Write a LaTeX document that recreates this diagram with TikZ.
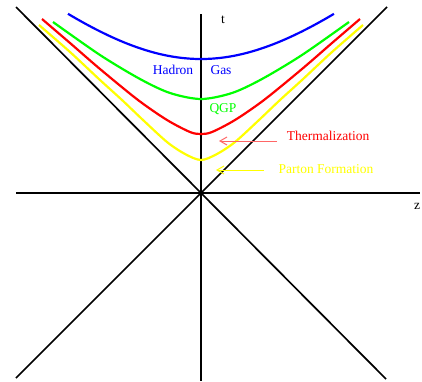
\documentclass[tikz,border=0pt]{standalone}
\usepackage{fontspec}
\setmainfont{Liberation Serif}
\usetikzlibrary{arrows.meta}
\definecolor{pblue}{RGB}{0,0,255}
\definecolor{pgreen}{RGB}{0,255,0}
\definecolor{pred}{RGB}{255,0,0}
\definecolor{pyellow}{RGB}{255,255,0}
\begin{document}
\begin{tikzpicture}[x=1pt,y=-1pt,
  axis/.style={line width=1.7pt,black},
  curve/.style={line width=2.2pt,smooth},
  lbl/.style={font=\fontsize{13.5}{15}\selectfont,inner sep=0pt},
  pointer/.style={line width=1pt,-{Straight Barb[length=7pt,width=8pt,line width=1pt]}}]
\useasboundingbox (0,0) rectangle (422,381);
% axes and light cone
\coordinate (O) at (201,193);
\coordinate (tTop) at (201,14);
\coordinate (tBot) at (201,381);
\coordinate (zL) at (16,193);
\coordinate (zR) at (420,193);
\coordinate (dTL) at (16,7);
\coordinate (dTR) at (387,7);
\coordinate (dBL) at (16,378);
\coordinate (dBR) at (386,379);
\draw[axis] (tTop) -- (tBot);
\draw[axis] (zL) -- (zR);
\draw[axis] (dTL) -- (O) -- (dBR);
\draw[axis] (dTR) -- (O) -- (dBL);
% hyperbolae
\draw[curve,pblue] plot[domain=-1.33:1.33,samples=60] ({201+100*\x},{193-100*sqrt(1.7956+0.8*\x*\x)});
\draw[curve,pgreen] plot coordinates {(53,22) (100,55) (140,79) (170,93) (201,99) (232,93) (262,79) (302,55) (349,22)};
\draw[curve,pred] plot coordinates {(42,19) (70,43) (100,69) (138,100) (167,120) (190,132) (201,134) (212,132) (235,120) (264,100) (302,69) (332,43) (360,19)};
\draw[curve,pyellow] plot coordinates {(39,25) (70,52) (100,80) (122,100) (143,120) (167,142) (185,154) (201,160) (217,154) (235,142) (259,120) (280,100) (302,80) (332,52) (363,25)};
% labels
\node[lbl] (t) at (223,20) {t};
\node[lbl] (z) at (417,206) {z};
\node[lbl,text=pblue] (hadron) at (173,70) {Hadron};
\node[lbl,text=pblue] (gas) at (221,70) {Gas};
\node[lbl,text=pgreen] (qgp) at (223,109) {QGP};
\node[lbl,text=pred] (therm) at (328,136) {Thermalization};
\node[lbl,text=pyellow] (parton) at (326,169) {Parton Formation};
\coordinate (thA) at (277,141);
\coordinate (thB) at (219,141);
\coordinate (paA) at (264,170);
\coordinate (paB) at (216,170);
\draw[pointer,pred!60] (thA) -- (thB);
\draw[pointer,pyellow] (paA) -- (paB);
\end{tikzpicture}
\end{document}
